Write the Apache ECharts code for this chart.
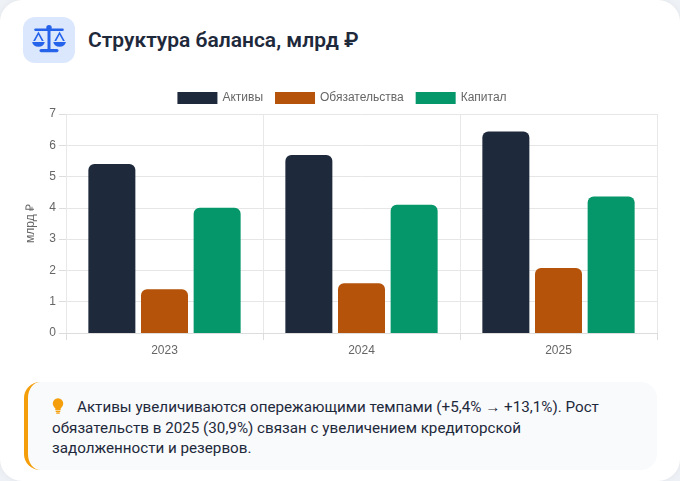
<!DOCTYPE html>
<html lang="ru">
<head>
<meta charset="UTF-8">
<title>Структура баланса</title>
<script src="https://cdn.jsdelivr.net/npm/echarts@6/dist/echarts.min.js"></script>
<style>
  html, body { margin: 0; padding: 0; }
  body {
    width: 680px; height: 481px; overflow: hidden;
    background: #eef1f5;
    font-family: Roboto, "Noto Sans", sans-serif;
  }
  .card {
    position: absolute; left: 0; top: 0; width: 680px; height: 481px;
    background: #fff; border-radius: 22px;
    box-shadow: 0 0 6px rgba(15, 23, 42, 0.06);
  }
  .icon {
    position: absolute; left: 23px; top: 17px; width: 52px; height: 46px;
    background: #dbe7fd; border-radius: 12px;
  }
  .icon svg { position: absolute; left: 7px; top: 6px; }
  .title {
    position: absolute; left: 88px; top: 28px;
    font-size: 21px; font-weight: 600; color: #1e293b;
  }
  #chart { position: absolute; left: 24px; top: 84px; width: 636px; height: 285px; }
  .insight {
    position: absolute; left: 24px; top: 382px; width: 633px; height: 88px;
    box-sizing: border-box; background: #f8fafc;
    border-left: 4px solid #f59e0b; border-radius: 16px;
    padding: 15px 0 0 24px;
  }
  .insight .txt {
    width: 572px; font-size: 15.2px; line-height: 20.5px; color: #1e293b;
  }
  .bulb { display: inline-block; width: 12px; height: 16px; vertical-align: -2px; margin-right: 13px; }
</style>
</head>
<body>
<div class="card">
  <div class="icon">
    <svg width="38" height="34" viewBox="0 0 36 32">
      <g fill="#2563eb">
        <rect x="4" y="5" width="28" height="2.4" rx="1.2"/>
        <circle cx="18" cy="4.5" r="2.6"/>
        <rect x="16.6" y="5" width="2.8" height="21"/>
        <rect x="9" y="24.5" width="18" height="3" rx="1.5"/>
        <path d="M8 8 L3 17 L4.8 17 L8 11 L11.2 17 L13 17 Z"/>
        <path d="M2 18 L14 18 Q13 22.5 8 22.5 Q3 22.5 2 18 Z"/>
        <path d="M28 8 L23 17 L24.8 17 L28 11 L31.2 17 L33 17 Z"/>
        <path d="M22 18 L34 18 Q33 22.5 28 22.5 Q23 22.5 22 18 Z"/>
      </g>
    </svg>
  </div>
  <div class="title">Структура баланса, млрд ₽</div>
  <div id="chart"></div>
  <div class="insight">
    <div class="txt"><svg class="bulb" viewBox="0 0 12 16"><g fill="#f59e0b"><circle cx="6" cy="5.5" r="5.2"/><rect x="3.3" y="9" width="5.4" height="3.2"/><rect x="3.6" y="12.8" width="4.8" height="1.4" rx="0.7"/><rect x="4.2" y="14.5" width="3.6" height="1.3" rx="0.6"/></g></svg>Активы увеличиваются опережающими темпами (+5,4% → +13,1%). Рост обязательств в 2025 (30,9%) связан с увеличением кредиторской задолженности и резервов.</div>
  </div>
</div>
<script>
  var years = ['2023', '2024', '2025'];
  var assets = [5.40, 5.69, 6.44];
  var liabilities = [1.40, 1.59, 2.08];
  var equity = [4.00, 4.10, 4.36];

  var names = ['Активы', 'Обязательства', 'Капитал'];
  var colors = ['#1e293b', '#b45309', '#059669'];
  var seriesData = [assets, liabilities, equity];

  var labelFont = 'Liberation Sans, Arial, sans-serif';

  var chart = echarts.init(document.getElementById('chart'));
  chart.setOption({
    animation: false,
    textStyle: { fontFamily: labelFont },
    legend: {
      top: 3,
      left: 'center',
      itemWidth: 40,
      itemHeight: 12,
      itemGap: 12,
      icon: 'rect',
      textStyle: { color: '#666', fontSize: 12, fontFamily: labelFont },
      data: names
    },
    grid: { left: 42, right: 3, top: 30, bottom: 36, outerBoundsMode: 'none' },
    xAxis: {
      type: 'category',
      data: years,
      axisLine: { lineStyle: { color: '#ddd' } },
      axisTick: { show: true, length: 7, lineStyle: { color: '#ddd' } },
      splitLine: { show: true, lineStyle: { color: '#e8e8e8' } },
      axisLabel: { color: '#666', fontSize: 12, margin: 12 }
    },
    yAxis: {
      type: 'value',
      min: 0,
      max: 7,
      interval: 1,
      name: 'млрд ₽',
      nameLocation: 'middle',
      nameGap: 29,
      nameTextStyle: { color: '#666', fontSize: 12 },
      axisLine: { show: false },
      axisTick: { show: true, length: 7, lineStyle: { color: '#ddd' } },
      splitLine: { lineStyle: { color: '#e6e6e6' } },
      axisLabel: { color: '#666', fontSize: 12, margin: 10 }
    },
    series: seriesData.map(function (d, i) {
      return {
        name: names[i],
        type: 'bar',
        data: d,
        barWidth: 47,
        barGap: '12%',
        itemStyle: { color: colors[i], borderRadius: [6, 6, 0, 0] }
      };
    })
  });
</script>
</body>
</html>
